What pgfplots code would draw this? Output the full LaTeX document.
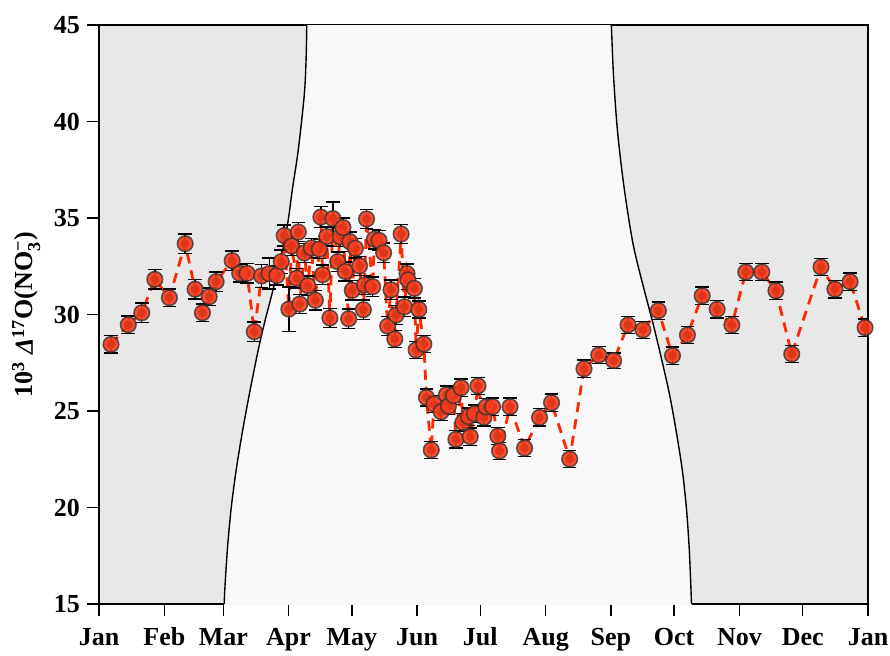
\documentclass[border=0pt]{standalone}
\usepackage{pgfplots}
\pgfplotsset{compat=1.18}
\usepackage{pgfplotstable}
\usepackage{amsmath}
\usepackage{fontspec}
\setmainfont{Liberation Serif}
\usetikzlibrary{calc}

\definecolor{nightgray}{RGB}{232,232,232}
\definecolor{daygray}{RGB}{248,248,248}
\definecolor{ptred}{RGB}{248,60,28}
\definecolor{linered}{RGB}{255,40,0}

% day of year, D17O (permil), 1-sigma
\pgfplotstableread{
day val err
5.7 28.45 0.45
13.9 29.47 0.45
20.3 30.09 0.5
26.5 31.82 0.5
33.4 30.87 0.45
40.9 33.67 0.5
45.6 31.31 0.5
49.1 30.09 0.45
52.3 30.92 0.45
55.6 31.70 0.5
63.2 32.79 0.5
66.8 32.13 0.45
70.3 32.13 0.5
73.7 29.11 0.5
77.2 32.00 0.6
80.8 32.12 0.8
84.4 32.02 0.5
86.5 32.74 0.6
87.9 34.09 0.55
90.1 30.28 1.15
91.4 33.55 0.5
93.8 31.88 0.5
94.6 34.27 0.5
95.3 30.54 0.5
97.4 33.19 0.5
99.1 31.50 0.5
100.8 33.45 0.5
102.7 30.74 0.5
104.6 33.39 0.5
105.3 35.05 0.55
106.1 32.06 0.5
108.1 34.04 0.5
109.6 29.82 0.5
111.0 34.97 0.85
113.3 32.74 0.5
114.5 34.03 0.5
115.8 34.51 0.5
116.9 32.23 0.5
118.5 29.78 0.5
119.1 33.77 0.5
120.2 31.25 0.5
121.7 33.43 0.5
123.7 32.52 0.5
125.5 30.25 0.5
126.0 31.53 0.5
127.0 34.95 0.5
129.9 31.44 0.5
130.7 33.90 0.5
132.9 33.84 0.5
135.1 33.20 0.5
137.0 29.40 0.5
138.6 31.28 0.5
140.4 28.73 0.45
141.0 29.97 0.5
143.4 34.17 0.5
145.0 30.40 0.5
146.2 32.12 0.5
146.6 31.79 0.5
149.7 31.35 0.5
150.5 28.16 0.45
151.8 30.26 0.45
154.2 28.47 0.45
155.4 25.70 0.45
157.7 22.98 0.45
159.0 25.36 0.45
162.4 24.96 0.45
164.9 25.84 0.45
165.9 25.26 0.45
168.3 25.80 0.45
169.4 23.53 0.45
171.9 26.21 0.45
172.7 24.41 0.45
175.4 24.71 0.45
176.2 23.67 0.45
178.2 24.86 0.45
179.9 26.30 0.45
182.7 24.67 0.45
183.7 25.21 0.45
186.8 25.22 0.45
189.3 23.70 0.45
190.1 22.93 0.45
195.1 25.22 0.45
202.0 23.08 0.45
209.1 24.67 0.45
214.8 25.43 0.45
223.4 22.51 0.45
230.2 27.19 0.45
237.2 27.90 0.45
244.3 27.61 0.4
251.1 29.46 0.45
258.2 29.20 0.45
265.5 30.20 0.45
272.2 27.87 0.45
279.3 28.94 0.45
286.3 30.97 0.45
293.4 30.27 0.45
300.4 29.46 0.45
307.0 32.20 0.45
314.6 32.20 0.45
321.3 31.23 0.45
328.8 27.95 0.45
342.7 32.46 0.45
349.3 31.31 0.45
356.5 31.70 0.45
363.6 29.32 0.45
}\nitrate

% sunrise / sunset curves (day of year, y position)
\pgfplotstableread{
day val
59.41 15
59.89 16.09
61.07 18.0
62.74 19.97
65.11 21.94
67.97 23.86
71.29 25.83
75.57 28.16
78.90 29.72
82.94 31.42
87.22 33.34
89.83 34.90
91.73 36.45
94.58 38.52
97.43 41.37
98.29 43.19
98.62 45
}\sunrise
\pgfplotstableread{
day val
243.20 45
244.20 42.4
246.10 39.5
249.20 36.6
253.40 33.7
258.00 31.6
262.80 29.6
267.00 27.7
270.90 25.8
274.20 23.8
276.90 21.9
278.85 19.92
280.09 17.97
280.80 16.24
281.23 15
}\sunset

\begin{document}
\begin{tikzpicture}
\begin{axis}[name=ax, scale only axis, width=384.5pt, height=289.5pt,
  xmin=0, xmax=365, ymin=15, ymax=45,
  axis background/.style={fill=nightgray},
  xtick={0,31,59,90,120,151,181,212,243,273,304,334,365},
  xticklabels={Jan,Feb,Mar,Apr,May,Jun,Jul,Aug,Sep,Oct,Nov,Dec,Jan},
  ytick={15,20,...,45},
  tick align=outside, tick pos=left, major tick length=6pt,
  axis line style={line width=1.25pt},
  tick style={line width=0.7pt, black},
  /pgf/number format/assume math mode=true,
  ticklabel style={font=\fontsize{13}{15}\selectfont\bfseries},
  xticklabel style={text height=9pt, text depth=3pt, yshift=-2pt},
  ylabel={10$^{\text{3}}$ \textit{Δ}$^{\text{17}}$O(NO$_{\text{3}}^{\text{−}}$)},
  ylabel style={font=\fontsize{13}{15}\selectfont\bfseries, yshift=0pt},
]
% daylight period between the two curves
\addplot[fill=daygray, draw=none, forget plot, smooth] coordinates {
(59.41,15) (59.89,16.09) (61.07,18.0) (62.74,19.97) (65.11,21.94) (67.97,23.86) (71.29,25.83) (75.57,28.16) (78.90,29.72) (82.94,31.42) (87.22,33.34) (89.83,34.90) (91.73,36.45) (94.58,38.52) (97.43,41.37) (98.29,43.19) (98.62,45)
(98.9,45.5) (243.0,45.5)
(243.20,45) (244.20,42.4) (246.10,39.5) (249.20,36.6) (253.40,33.7) (258.00,31.6) (262.80,29.6) (267.00,27.7) (270.90,25.8) (274.20,23.8) (276.90,21.9) (278.85,19.92) (280.09,17.97) (280.80,16.24) (281.23,15)
(281.3,14.5) (59.3,14.5)
} -- cycle;
\addplot[black, line width=0.7pt, smooth, forget plot] table[x=day, y=val] {\sunrise};
\addplot[black, line width=0.7pt, smooth, forget plot] table[x=day, y=val] {\sunset};
% dashed connection
\addplot[linered, line width=1.4pt, dash pattern=on 5pt off 3.5pt, mark=none] table[x=day, y=val] {\nitrate};
% error bars
\addplot[only marks, mark=none,
  error bars/.cd, y dir=both, y explicit,
  error bar style={draw=black, line width=0.7pt},
  error mark options={rotate=90, draw=black, line width=0.7pt, mark size=3.4pt}]
  table[x=day, y=val, y error=err] {\nitrate};
% markers
\addplot[only marks, mark=*, mark size=3.9pt,
  mark options={fill=ptred, fill opacity=0.9, draw=black!80, draw opacity=0.8, line width=0.75pt}]
  table[x=day, y=val] {\nitrate};
\end{axis}
\pgfresetboundingbox
\path ($(ax.south west)+(-49.5pt,-25.5pt)$) rectangle ($(ax.north east)+(11pt,12.5pt)$);
\end{tikzpicture}
\end{document}
